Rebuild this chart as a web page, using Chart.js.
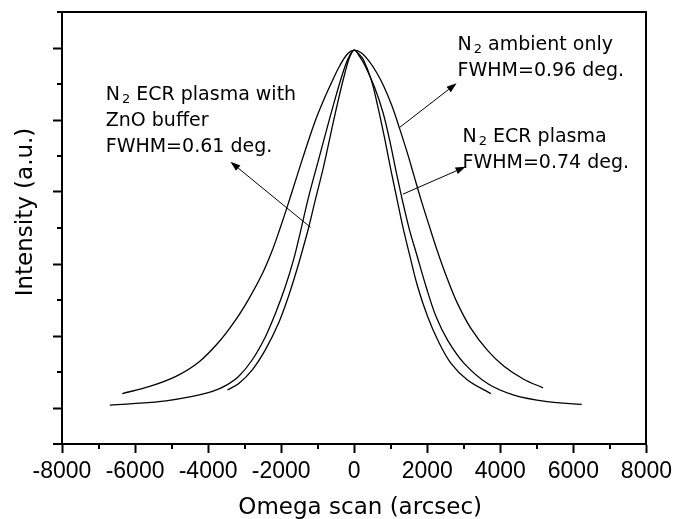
<!DOCTYPE html>
<html><head><meta charset="utf-8">
<script src="https://cdn.jsdelivr.net/npm/chart.js@4.4.1/dist/chart.umd.min.js"></script>
<style>html,body{margin:0;padding:0;background:#fff;}canvas{display:block;}</style>
</head><body>
<canvas id="c" width="677" height="519"></canvas>
<script>
// ---- data ----
const seriesNames = ['N2 ambient only', 'N2 ECR plasma', 'N2 ECR plasma with ZnO buffer'];

const ambientX = [-6350,-5600,-4880,-4250,-3700,-3250,-2880,-2520,-2250,-2040,-1830,-1580,-1340,-1080,-850,-620,-400,-180,0,200,400,600,800,1030,1250,1450,1640,1830,2060,2290,2560,2830,3190,3650,4100,4640,5170];
const ambientY = [0.20,0.30,0.44,0.64,0.92,1.22,1.52,1.86,2.18,2.48,2.80,3.20,3.58,3.97,4.26,4.52,4.75,4.92,4.97,4.93,4.82,4.67,4.48,4.20,3.87,3.55,3.22,2.89,2.52,2.16,1.78,1.45,1.11,0.80,0.58,0.40,0.28];

const plasmaX = [-6690,-6060,-5150,-4430,-3880,-3520,-3160,-2790,-2430,-2160,-1890,-1660,-1480,-1250,-980,-710,-480,-300,-150,0,150,300,560,790,970,1150,1330,1515,1700,1970,2240,2560,3010,3650,4370,5280,6230];
const plasmaY = [0.04,0.06,0.10,0.16,0.23,0.31,0.44,0.67,0.99,1.31,1.68,2.06,2.43,2.93,3.44,3.95,4.37,4.67,4.87,4.97,4.88,4.75,4.45,4.10,3.72,3.28,2.86,2.47,2.15,1.68,1.27,0.94,0.62,0.34,0.18,0.09,0.05];

const bufferX = [-3470,-3160,-2790,-2430,-2070,-1800,-1570,-1390,-1250,-1070,-840,-620,-435,-250,-120,0,120,250,470,650,835,1015,1180,1330,1515,1740,2010,2290,2650,3100,3740];
const bufferY = [0.25,0.34,0.53,0.81,1.18,1.55,1.92,2.24,2.50,2.88,3.35,3.86,4.28,4.66,4.88,4.97,4.92,4.84,4.55,4.18,3.74,3.28,2.88,2.52,2.13,1.68,1.27,0.94,0.62,0.39,0.20];

const xMajor = [-8000,-6000,-4000,-2000,0,2000,4000,6000,8000];
const xMinor = [-7000,-5000,-3000,-1000,1000,3000,5000,7000];
const yMajor = [0,1,2,3,4,5];
const yMinor = [0.5,1.5,2.5,3.5,4.5,5.5];

const xTitle = 'Omega scan (arcsec)';
const yTitle = 'Intensity (a.u.)';

// annotation texts: [main, subscript, rest]
const annotations = [
  {x: 2830, y: 4.972, lines: [['N','2',' ambient only'], ['FWHM=0.96 deg.']]},
  {x: -6803, y: 4.278, lines: [['N','2',' ECR plasma with'], ['ZnO buffer'], ['FWHM=0.61 deg.']]},
  {x: 2966, y: 3.694, lines: [['N','2',' ECR plasma'], ['FWHM=0.74 deg.']]}
];
const arrows = [
  {from: [1252, 3.90], to: [2803, 4.51]},
  {from: [1333, 2.97], to: [3048, 3.35]},
  {from: [-1197, 2.51], to: [-3388, 3.42]}
];

// ---- chart ----
const pts = (xs, ys) => xs.map((x, i) => ({x, y: ys[i]}));
const lineStyle = {borderColor:'#000', borderWidth:1.3, pointRadius:0, fill:false, tension:0.35};

const deco = {
  id: 'deco',
  afterDraw(chart) {
    const {ctx, chartArea: a, scales: {x, y}} = chart;
    ctx.save();
    ctx.strokeStyle = '#000';
    ctx.lineWidth = 2;
    ctx.beginPath();
    ctx.moveTo(a.left - 5, Math.round(a.top));
    ctx.lineTo(Math.round(a.right), Math.round(a.top));
    ctx.lineTo(Math.round(a.right), Math.round(a.bottom));
    ctx.stroke();
    // minor ticks
    xMinor.forEach(v => {
      const px = Math.round(x.getPixelForValue(v));
      ctx.beginPath(); ctx.moveTo(px, a.bottom); ctx.lineTo(px, a.bottom + 5); ctx.stroke();
    });
    yMinor.forEach(v => {
      const py = Math.round(y.getPixelForValue(v));
      ctx.beginPath(); ctx.moveTo(a.left, py); ctx.lineTo(a.left - 5, py); ctx.stroke();
    });
    const pyb = Math.round(y.getPixelForValue(-0.5));
    ctx.beginPath(); ctx.moveTo(a.left, pyb); ctx.lineTo(a.left - 9, pyb); ctx.stroke();

    ctx.fillStyle = '#000';
    ctx.textBaseline = 'alphabetic';
    // axis titles
    ctx.font = '23px "DejaVu Sans"';
    ctx.textAlign = 'center';
    ctx.fillText(xTitle, (a.left + a.right) / 2 + 6, a.bottom + 70);
    ctx.save();
    ctx.translate(a.left - 30, (a.top + a.bottom) / 2 - 16);
    ctx.rotate(-Math.PI / 2);
    ctx.fillText(yTitle, 0, 0);
    ctx.restore();

    // annotation texts
    ctx.textAlign = 'left';
    annotations.forEach(an => {
      const px = x.getPixelForValue(an.x);
      let py = y.getPixelForValue(an.y);
      an.lines.forEach(parts => {
        let cx = px;
        ctx.font = '19px "DejaVu Sans"';
        ctx.fillText(parts[0], cx, py);
        cx += ctx.measureText(parts[0]).width;
        if (parts.length > 1) {
          ctx.font = '13px "DejaVu Sans"';
          cx += 2;
          ctx.fillText(parts[1], cx, py + 3);
          cx += ctx.measureText(parts[1]).width;
          ctx.font = '19px "DejaVu Sans"';
          ctx.fillText(parts[2], cx, py);
        }
        py += 26;
      });
    });
    // arrows
    ctx.lineWidth = 1;
    arrows.forEach(ar => {
      const x1 = x.getPixelForValue(ar.from[0]), y1 = y.getPixelForValue(ar.from[1]);
      const x2 = x.getPixelForValue(ar.to[0]), y2 = y.getPixelForValue(ar.to[1]);
      const ang = Math.atan2(y2 - y1, x2 - x1);
      const L = 10, W = 3.5;
      const bx = x2 - L * Math.cos(ang), by = y2 - L * Math.sin(ang);
      ctx.beginPath(); ctx.moveTo(x1, y1); ctx.lineTo(bx, by); ctx.stroke();
      ctx.beginPath();
      ctx.moveTo(x2, y2);
      ctx.lineTo(bx + W * Math.sin(ang), by - W * Math.cos(ang));
      ctx.lineTo(bx - W * Math.sin(ang), by + W * Math.cos(ang));
      ctx.closePath(); ctx.fill();
    });
    ctx.restore();
  }
};

Chart.defaults.color = '#000';
new Chart(document.getElementById('c'), {
  type: 'line',
  data: {
    datasets: [
      {label: seriesNames[0], data: pts(ambientX, ambientY), ...lineStyle},
      {label: seriesNames[1], data: pts(plasmaX, plasmaY), ...lineStyle},
      {label: seriesNames[2], data: pts(bufferX, bufferY), ...lineStyle}
    ]
  },
  options: {
    responsive: false,
    animation: false,
    devicePixelRatio: 1,
    layout: {padding: {top: 12, right: 27, bottom: 0, left: 0}},
    plugins: {legend: {display: false}, tooltip: {enabled: false}},
    scales: {
      x: {
        type: 'linear', min: -8000, max: 8000,
        afterBuildTicks: s => { s.ticks = xMajor.map(v => ({value: v})); },
        ticks: {callback: v => String(v), font: {family: '"Liberation Sans", Arial', size: 23}, color: '#000', padding: 5, maxRotation: 0, autoSkip: false},
        grid: {drawOnChartArea: false, drawTicks: true, tickLength: 9, tickWidth: 2, tickColor: '#000'},
        border: {display: true, color: '#000', width: 2},
        title: {display: false, text: xTitle},
        afterFit: s => { s.height = 75; }
      },
      y: {
        type: 'linear', min: -0.5, max: 5.5,
        afterBuildTicks: s => { s.ticks = yMajor.map(v => ({value: v})); },
        ticks: {display: false},
        grid: {drawOnChartArea: false, drawTicks: true, tickLength: 9, tickWidth: 2, tickColor: '#000'},
        border: {display: true, color: '#000', width: 2},
        title: {display: false, text: yTitle},
        afterFit: s => { s.width = 62; }
      }
    }
  },
  plugins: [deco]
});
</script>
</body></html>
